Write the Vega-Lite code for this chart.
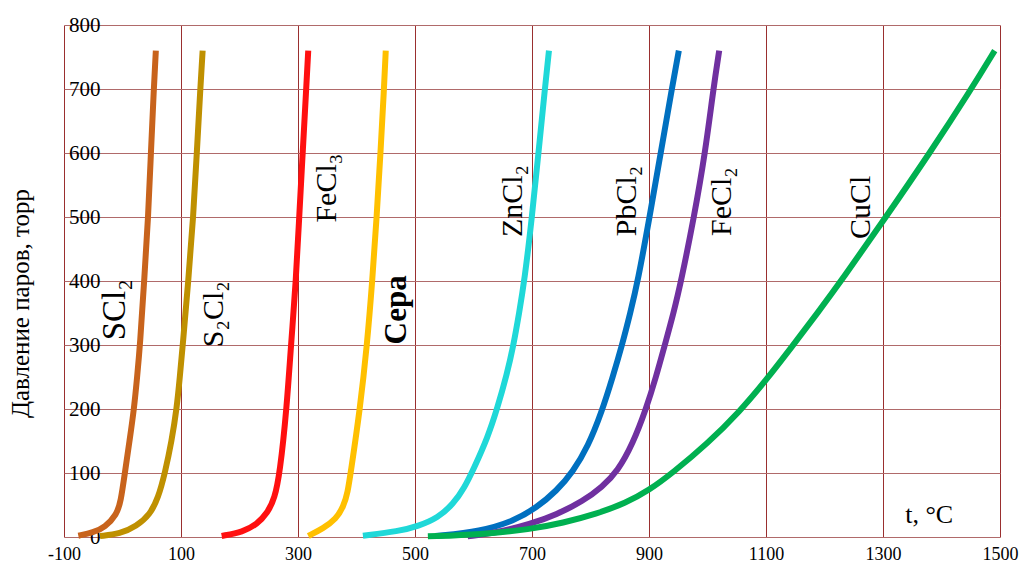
{
  "$schema": "https://vega.github.io/schema/vega-lite/v6.json",
  "width": 936,
  "height": 512,
  "autosize": {"type": "none"},
  "padding": {"left": 64, "top": 25, "right": 29, "bottom": 28},
  "background": "white",
  "config": {
    "view": {"stroke": null},
    "font": "Liberation Serif",
    "axis": {"labelFont": "Liberation Serif", "titleFont": "Liberation Serif", "labelColor": "black", "titleColor": "black"}
  },
  "datasets": {
    "zero": [{"t": 0}],
    "curves": [
      {"s": "SCl2", "t": -75.5, "p": 2}, {"s": "SCl2", "t": -50, "p": 7}, {"s": "SCl2", "t": -30, "p": 15}, {"s": "SCl2", "t": -10, "p": 35}, {"s": "SCl2", "t": -3, "p": 55}, {"s": "SCl2", "t": 4, "p": 100}, {"s": "SCl2", "t": 12, "p": 150}, {"s": "SCl2", "t": 19.7, "p": 200}, {"s": "SCl2", "t": 25, "p": 250}, {"s": "SCl2", "t": 30, "p": 300}, {"s": "SCl2", "t": 37, "p": 400}, {"s": "SCl2", "t": 44, "p": 500}, {"s": "SCl2", "t": 48.5, "p": 600}, {"s": "SCl2", "t": 53.5, "p": 700}, {"s": "SCl2", "t": 57, "p": 760},
      {"s": "S2Cl2", "t": -38.5, "p": 1.5}, {"s": "S2Cl2", "t": -4, "p": 5}, {"s": "S2Cl2", "t": 24, "p": 17}, {"s": "S2Cl2", "t": 47, "p": 35}, {"s": "S2Cl2", "t": 61, "p": 61}, {"s": "S2Cl2", "t": 72.6, "p": 100}, {"s": "S2Cl2", "t": 84, "p": 150}, {"s": "S2Cl2", "t": 92.6, "p": 200}, {"s": "S2Cl2", "t": 98, "p": 250}, {"s": "S2Cl2", "t": 103, "p": 300}, {"s": "S2Cl2", "t": 112.5, "p": 400}, {"s": "S2Cl2", "t": 121, "p": 500}, {"s": "S2Cl2", "t": 127, "p": 600}, {"s": "S2Cl2", "t": 133, "p": 700}, {"s": "S2Cl2", "t": 137, "p": 760},
      {"s": "FeCl3", "t": 169.5, "p": 1.6}, {"s": "FeCl3", "t": 206, "p": 8}, {"s": "FeCl3", "t": 230, "p": 20}, {"s": "FeCl3", "t": 248, "p": 38}, {"s": "FeCl3", "t": 260, "p": 60}, {"s": "FeCl3", "t": 269, "p": 100}, {"s": "FeCl3", "t": 280.6, "p": 200}, {"s": "FeCl3", "t": 288, "p": 300}, {"s": "FeCl3", "t": 296.5, "p": 400}, {"s": "FeCl3", "t": 302, "p": 500}, {"s": "FeCl3", "t": 308, "p": 600}, {"s": "FeCl3", "t": 314, "p": 700}, {"s": "FeCl3", "t": 317.5, "p": 760},
      {"s": "Сера", "t": 317.6, "p": 1.6}, {"s": "Сера", "t": 343, "p": 13.5}, {"s": "Сера", "t": 365, "p": 28}, {"s": "Сера", "t": 378, "p": 48}, {"s": "Сера", "t": 385, "p": 70}, {"s": "Сера", "t": 390, "p": 100}, {"s": "Сера", "t": 406, "p": 200}, {"s": "Сера", "t": 418, "p": 300}, {"s": "Сера", "t": 427, "p": 400}, {"s": "Сера", "t": 434.5, "p": 500}, {"s": "Сера", "t": 441, "p": 600}, {"s": "Сера", "t": 447, "p": 700}, {"s": "Сера", "t": 450, "p": 760},
      {"s": "ZnCl2", "t": 411, "p": 2}, {"s": "ZnCl2", "t": 472, "p": 9}, {"s": "ZnCl2", "t": 505.6, "p": 17}, {"s": "ZnCl2", "t": 539, "p": 30}, {"s": "ZnCl2", "t": 565, "p": 51}, {"s": "ZnCl2", "t": 584.5, "p": 77}, {"s": "ZnCl2", "t": 601, "p": 108}, {"s": "ZnCl2", "t": 624, "p": 155}, {"s": "ZnCl2", "t": 641, "p": 202}, {"s": "ZnCl2", "t": 657, "p": 254}, {"s": "ZnCl2", "t": 668, "p": 298}, {"s": "ZnCl2", "t": 678, "p": 350}, {"s": "ZnCl2", "t": 687, "p": 400}, {"s": "ZnCl2", "t": 700, "p": 500}, {"s": "ZnCl2", "t": 711, "p": 600}, {"s": "ZnCl2", "t": 722, "p": 700}, {"s": "ZnCl2", "t": 729, "p": 760},
      {"s": "PbCl2", "t": 535, "p": 1.5}, {"s": "PbCl2", "t": 612.7, "p": 9}, {"s": "PbCl2", "t": 669, "p": 25}, {"s": "PbCl2", "t": 708, "p": 46}, {"s": "PbCl2", "t": 742, "p": 72}, {"s": "PbCl2", "t": 770, "p": 102}, {"s": "PbCl2", "t": 796, "p": 142}, {"s": "PbCl2", "t": 819, "p": 195}, {"s": "PbCl2", "t": 838, "p": 250}, {"s": "PbCl2", "t": 854, "p": 300}, {"s": "PbCl2", "t": 868, "p": 350}, {"s": "PbCl2", "t": 881, "p": 400}, {"s": "PbCl2", "t": 901, "p": 500}, {"s": "PbCl2", "t": 920, "p": 600}, {"s": "PbCl2", "t": 939, "p": 700}, {"s": "PbCl2", "t": 951, "p": 760},
      {"s": "FeCl2", "t": 590, "p": 1}, {"s": "FeCl2", "t": 641, "p": 7}, {"s": "FeCl2", "t": 697, "p": 20}, {"s": "FeCl2", "t": 742, "p": 35}, {"s": "FeCl2", "t": 787, "p": 56}, {"s": "FeCl2", "t": 820, "p": 78}, {"s": "FeCl2", "t": 846.5, "p": 103}, {"s": "FeCl2", "t": 872, "p": 145}, {"s": "FeCl2", "t": 895, "p": 200}, {"s": "FeCl2", "t": 912, "p": 250}, {"s": "FeCl2", "t": 927, "p": 300}, {"s": "FeCl2", "t": 942, "p": 350}, {"s": "FeCl2", "t": 955, "p": 400}, {"s": "FeCl2", "t": 977, "p": 500}, {"s": "FeCl2", "t": 996, "p": 600}, {"s": "FeCl2", "t": 1010, "p": 700}, {"s": "FeCl2", "t": 1020, "p": 760},
      {"s": "CuCl", "t": 522, "p": 1}, {"s": "CuCl", "t": 613, "p": 4}, {"s": "CuCl", "t": 697, "p": 12}, {"s": "CuCl", "t": 753, "p": 22}, {"s": "CuCl", "t": 810, "p": 36}, {"s": "CuCl", "t": 860, "p": 53}, {"s": "CuCl", "t": 900, "p": 73}, {"s": "CuCl", "t": 940, "p": 100}, {"s": "CuCl", "t": 1000, "p": 146}, {"s": "CuCl", "t": 1055, "p": 196}, {"s": "CuCl", "t": 1100, "p": 245}, {"s": "CuCl", "t": 1144, "p": 297}, {"s": "CuCl", "t": 1188, "p": 350}, {"s": "CuCl", "t": 1230, "p": 402}, {"s": "CuCl", "t": 1305, "p": 500}, {"s": "CuCl", "t": 1380, "p": 600}, {"s": "CuCl", "t": 1451, "p": 700}, {"s": "CuCl", "t": 1491, "p": 760}
    ],
    "labels": [
      {"label": "S₂Cl₂", "t": 156, "p": 348},
      {"label": "FeCl₃", "t": 350, "p": 545},
      {"label": "ZnCl₂", "t": 667, "p": 525},
      {"label": "PbCl₂", "t": 862, "p": 525},
      {"label": "FeCl₂", "t": 1025, "p": 524},
      {"label": "CuCl", "t": 1262, "p": 515}
    ],
    "big": [{"label": "SCl₂", "t": -12, "p": 355}],
    "bold": [{"label": "Сера", "t": 469, "p": 355}],
    "unit": [{"label": "t, °C", "t": 1379, "p": 34}]
  },
  "encoding": {
    "x": {"field": "t", "type": "quantitative", "scale": {"domain": [-100, 1500], "nice": false, "zero": false},
      "axis": {"values": [-100, 100, 300, 500, 700, 900, 1100, 1300, 1500], "labelExpr": "'' + datum.value", "grid": true, "gridColor": "#9a2f2f", "gridWidth": 1, "gridOpacity": 1, "ticks": false, "domain": false, "labelFont": "Liberation Serif", "labelFontSize": 18, "labelPadding": 8, "labelColor": "black", "labelFlush": false, "labelOverlap": false, "title": null}},
    "y": {"field": "p", "type": "quantitative", "scale": {"domain": [0, 800], "nice": false},
      "axis": {"values": [0, 100, 200, 300, 400, 500, 600, 700, 800], "grid": true, "gridColor": "#b06a6a", "gridWidth": 1, "gridOpacity": 1, "ticks": false, "domain": false, "labelAlign": "right", "labelPadding": -36, "labelFont": "Liberation Serif", "labelFontSize": 21, "labelBaseline": "middle", "labelColor": "black", "labelFlush": false, "labelOverlap": false,
        "title": "Давление паров, торр", "titleFont": "Liberation Serif", "titleFontSize": 25, "titleFontWeight": "normal", "titleColor": "black", "titleX": -44, "titleY": 278, "titleAngle": 270, "titleAlign": "center", "titleBaseline": "middle"}}
  },
  "layer": [
    {
      "data": {"name": "zero"},
      "mark": {"type": "rule", "color": "#b8b8b8", "strokeWidth": 1},
      "encoding": {
        "y": {"datum": 0, "type": "quantitative"},
        "y2": {"datum": 800}
      }
    },
    {
      "data": {"name": "curves"},
      "mark": {"type": "line", "strokeWidth": 6, "interpolate": "basis", "strokeCap": "butt"},
      "encoding": {
        "color": {"field": "s", "type": "nominal", "legend": null,
          "scale": {"domain": ["SCl2", "S2Cl2", "FeCl3", "Сера", "ZnCl2", "PbCl2", "FeCl2", "CuCl"],
            "range": ["#c8631c", "#bf9000", "#ff1010", "#ffc000", "#1fd8d8", "#0070c0", "#7030a0", "#00b050"]}}
      }
    },
    {
      "data": {"name": "labels"},
      "mark": {"type": "text", "angle": 270, "font": "Liberation Serif", "fontSize": 30, "align": "center", "baseline": "middle", "color": "black"},
      "encoding": {"text": {"field": "label"}}
    },
    {
      "data": {"name": "big"},
      "mark": {"type": "text", "angle": 270, "font": "Liberation Serif", "fontSize": 33, "align": "center", "baseline": "middle", "color": "black"},
      "encoding": {"text": {"field": "label"}}
    },
    {
      "data": {"name": "bold"},
      "mark": {"type": "text", "angle": 270, "font": "Liberation Serif", "fontSize": 31, "fontWeight": "bold", "align": "center", "baseline": "middle", "color": "black"},
      "encoding": {"text": {"field": "label"}}
    },
    {
      "data": {"name": "unit"},
      "mark": {"type": "text", "font": "Liberation Serif", "fontSize": 26, "align": "center", "baseline": "middle", "color": "black"},
      "encoding": {"text": {"field": "label"}}
    }
  ]
}
